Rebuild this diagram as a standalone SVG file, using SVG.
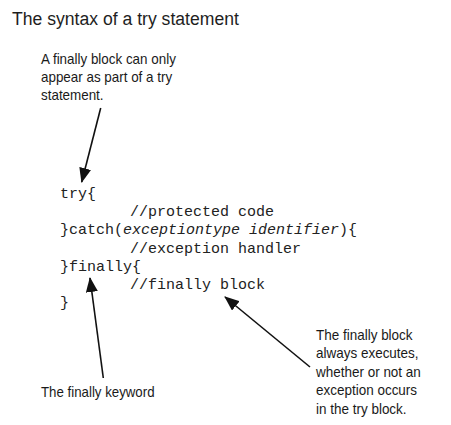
<svg xmlns="http://www.w3.org/2000/svg" width="451" height="425" viewBox="0 0 451 425">
<defs>
<style>
.title{font-family:"Liberation Sans",Arial,sans-serif;font-size:17.6px;fill:#1e1e1e}
.note{font-family:"Liberation Sans",Arial,sans-serif;font-size:14.2px;fill:#1a1a1a}
.code{font-family:"Liberation Mono","Courier New",monospace;font-size:15px;fill:#222}
.it{font-style:italic}
.arrow{stroke:#111;stroke-width:1.6;fill:none;marker-end:url(#ah)}
</style>
<marker id="ah" markerUnits="userSpaceOnUse" markerWidth="16" markerHeight="12" refX="14" refY="6" orient="auto">
<path d="M0,0 L15,6 L0,12 z" fill="#111"/>
</marker>
</defs>
<rect width="451" height="425" fill="#fff"/>
<text class="title" x="12" y="25">The syntax of a try statement</text>

<g id="note-top" transform="translate(41,0) scale(0.945,1)">
<text class="note" x="0" y="64">A finally block can only</text>
<text class="note" x="0" y="82">appear as part of a try</text>
<text class="note" x="0" y="100">statement.</text>
</g>

<g id="code">
<text class="code" x="60" y="198">try{</text>
<text class="code" x="130" y="216.2">//protected code</text>
<text class="code" x="60" y="234.4">}catch(<tspan class="it">exceptiontype identifier</tspan>){</text>
<text class="code" x="130" y="252.6">//exception handler</text>
<text class="code" x="60" y="270.8">}finally{</text>
<text class="code" x="130" y="289">//finally block</text>
<text class="code" x="60" y="307.2">}</text>
</g>

<g id="note-keyword" transform="translate(41,0) scale(0.935,1)">
<text class="note" x="0" y="397">The finally keyword</text>
</g>

<g id="note-block" transform="translate(316,0) scale(0.95,1)">
<text class="note" x="0" y="340">The finally block</text>
<text class="note" x="0" y="358.5">always executes,</text>
<text class="note" x="0" y="377">whether or not an</text>
<text class="note" x="0" y="395.5">exception occurs</text>
<text class="note" x="0" y="414">in the try block.</text>
</g>

<g id="connectors">
<line class="arrow" x1="100.7" y1="108" x2="81.7" y2="182"/>
<line class="arrow" x1="103.3" y1="378" x2="90" y2="278"/>
<line class="arrow" x1="310" y1="367" x2="225" y2="297"/>
</g>
</svg>
